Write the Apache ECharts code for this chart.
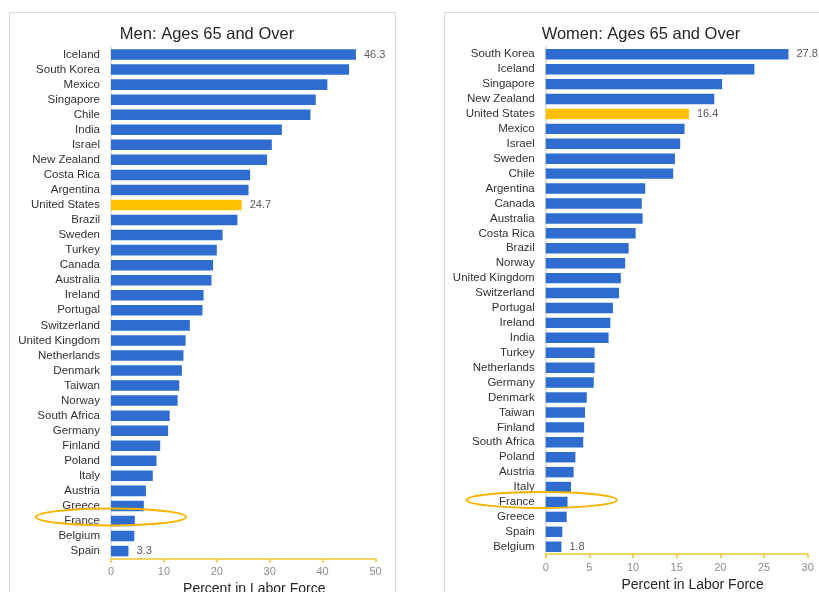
<!DOCTYPE html>
<html>
<head>
<meta charset="utf-8">
<script src="https://cdn.jsdelivr.net/npm/echarts@6/dist/echarts.min.js"></script>
<style>
	html, body { margin:0; padding:0; background:#ffffff; }
	#main { width:819px; height:592px; }
</style>
</head>
<body>
<div id="main"></div>
<script>
// 男性 65+
var menCountries = ['Iceland', 'South Korea', 'Mexico', 'Singapore', 'Chile', 'India', 'Israel', 'New Zealand',
	'Costa Rica', 'Argentina', 'United States', 'Brazil', 'Sweden', 'Turkey', 'Canada', 'Australia', 'Ireland',
	'Portugal', 'Switzerland', 'United Kingdom', 'Netherlands', 'Denmark', 'Taiwan', 'Norway', 'South Africa',
	'Germany', 'Finland', 'Poland', 'Italy', 'Austria', 'Greece', 'France', 'Belgium', 'Spain'];
var menValues = [46.3, 45.0, 40.9, 38.7, 37.7, 32.3, 30.4, 29.5, 26.3, 26.0, 24.7, 23.9, 21.1, 20.0, 19.3, 19.0, 17.5,
	17.3, 14.9, 14.1, 13.7, 13.4, 12.9, 12.6, 11.1, 10.8, 9.3, 8.6, 7.9, 6.6, 6.2, 4.5, 4.4, 3.3];

// 女性 65+
var womenCountries = ['South Korea', 'Iceland', 'Singapore', 'New Zealand', 'United States', 'Mexico', 'Israel',
	'Sweden', 'Chile', 'Argentina', 'Canada', 'Australia', 'Costa Rica', 'Brazil', 'Norway', 'United Kingdom',
	'Switzerland', 'Portugal', 'Ireland', 'India', 'Turkey', 'Netherlands', 'Germany', 'Denmark', 'Taiwan',
	'Finland', 'South Africa', 'Poland', 'Austria', 'Italy', 'France', 'Greece', 'Spain', 'Belgium'];
var womenValues = [27.8, 23.9, 20.2, 19.3, 16.4, 15.9, 15.4, 14.8, 14.6, 11.4, 11.0, 11.1, 10.3, 9.5, 9.1, 8.6,
	8.4, 7.7, 7.4, 7.2, 5.6, 5.6, 5.5, 4.7, 4.5, 4.4, 4.3, 3.4, 3.2, 2.9, 2.5, 2.4, 1.9, 1.8];

var menTicks = [0, 10, 20, 30, 40, 50];
var womenTicks = [0, 5, 10, 15, 20, 25, 30];

var highlightCountry = 'United States';
var circledCountry = 'France';

var BLUE = '#2e6ccf';
var GOLD = '#ffc000';
var AXIS_GOLD = '#f0c630';
var FONT = 'Liberation Sans, Arial, sans-serif';

var buildData = function(names, values){
	var data = [];
	var last = values.length - 1;
	for( var i = 0; i < values.length; i++ ){
		var item = {value:values[i]};
		if( names[i] == highlightCountry ){
			item.itemStyle = {color:GOLD};
		}
		if( i == 0 || i == last || names[i] == highlightCountry ){
			item.label = {show:true};
		}
		data.push( item );
	}
	return data;
};

var valueAxis = function(idx, ticks){
	return {
		type:'value',
		gridIndex:idx,
		min:ticks[0],
		max:ticks[ticks.length - 1],
		interval:ticks[1] - ticks[0],
		name:'Percent in Labor Force',
		nameLocation:'middle',
		nameGap:23,
		nameTextStyle:{color:'#262626', fontSize:14, fontFamily:FONT, verticalAlign:'top',
			padding:[0, 0, 0, idx == 0 ? 22 : 32]},
		axisLine:{show:true, lineStyle:{color:AXIS_GOLD, width:1.5}},
		axisTick:{show:true, length:4, lineStyle:{color:AXIS_GOLD, width:1.5}},
		axisLabel:{color:'#8c8c8c', fontSize:11, fontFamily:FONT, margin:8},
		splitLine:{show:false}
	};
};

var categoryAxis = function(idx, names){
	return {
		type:'category',
		gridIndex:idx,
		inverse:true,
		data:names,
		axisLine:{show:true, lineStyle:{color:'#d9d9d9', width:1.5}},
		axisTick:{show:false},
		axisLabel:{color:'#333333', fontSize:11.5, fontFamily:FONT, margin:11, interval:0}
	};
};

var barSeries = function(idx, names, values){
	return {
		type:'bar',
		xAxisIndex:idx,
		yAxisIndex:idx,
		barCategoryGap:'30%',
		itemStyle:{color:BLUE},
		label:{show:false, position:'right', distance:8, color:'#595959', fontSize:11, fontFamily:FONT},
		data:buildData( names, values ),
		silent:true
	};
};

var chart = echarts.init( document.getElementById( 'main' ) );

chart.setOption( {
	animation:false,
	title:[
		{text:'Men: Ages 65 and Over', left:202, top:21, textAlign:'center',
			textStyle:{fontSize:16.5, fontWeight:'normal', color:'#262626', fontFamily:FONT}},
		{text:'Women: Ages 65 and Over', left:636, top:21, textAlign:'center',
			textStyle:{fontSize:16.5, fontWeight:'normal', color:'#262626', fontFamily:FONT}}
	],
	grid:[
		{left:111, top:47, width:264.5, height:511.6, outerBoundsMode:'none'},
		{left:545.7, top:46.8, width:262, height:507.4, outerBoundsMode:'none'}
	],
	xAxis:[valueAxis( 0, menTicks ), valueAxis( 1, womenTicks )],
	yAxis:[categoryAxis( 0, menCountries ), categoryAxis( 1, womenCountries )],
	series:[
		barSeries( 0, menCountries, menValues ),
		barSeries( 1, womenCountries, womenValues )
	]
} );

// 面板边框 + 法国的圈
var menFr = chart.convertToPixel( {gridIndex:0}, [0, circledCountry] );
var womenFr = chart.convertToPixel( {gridIndex:1}, [0, circledCountry] );

chart.setOption( {
	graphic:[
		{type:'rect', z:-1, shape:{x:9.5, y:12.5, width:386, height:620},
			style:{fill:'none', stroke:'#dcdcdc', lineWidth:1.2}},
		{type:'rect', z:-1, shape:{x:444.5, y:12.5, width:420, height:620},
			style:{fill:'none', stroke:'#dcdcdc', lineWidth:1.2}},
		{type:'ellipse', z:100, shape:{cx:menFr[0], cy:menFr[1] - 4, rx:75, ry:8.5},
			style:{fill:'none', stroke:'#f5b400', lineWidth:2}},
		{type:'ellipse', z:100, shape:{cx:womenFr[0] - 4, cy:womenFr[1] - 2, rx:75, ry:8},
			style:{fill:'none', stroke:'#f5b400', lineWidth:2}}
	]
} );
</script>
</body>
</html>
